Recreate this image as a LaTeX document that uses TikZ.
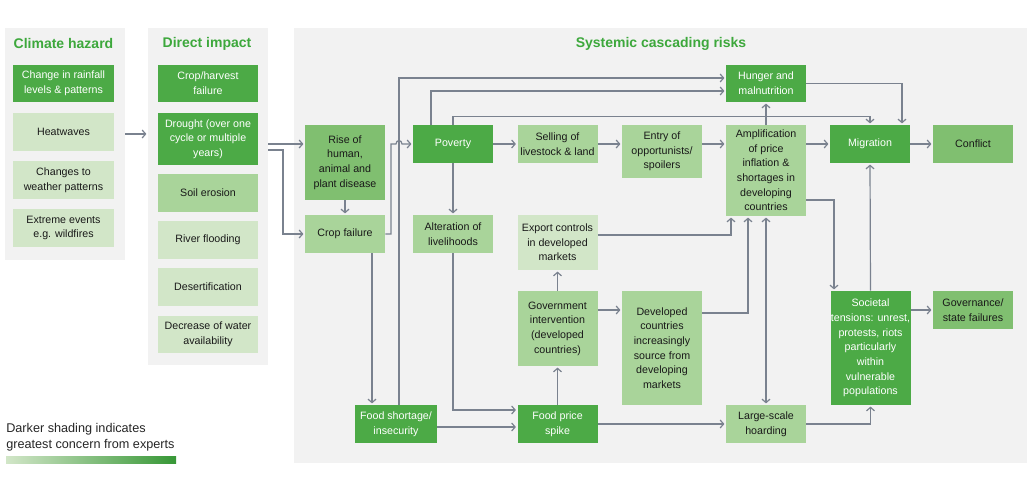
\documentclass[tikz,border=0pt]{standalone}
\usepackage{fontspec}
\setmainfont{Liberation Sans}
\usetikzlibrary{arrows.meta}
\definecolor{riskDark}{HTML}{4CAA46}
\definecolor{riskMid}{HTML}{80BF70}
\definecolor{riskLight}{HTML}{A9D49A}
\definecolor{riskPale}{HTML}{D2E6C8}
\definecolor{riskTitle}{HTML}{3DA83C}
\definecolor{panelGrey}{HTML}{F2F2F2}
\definecolor{linkGrey}{HTML}{7A828F}

\begin{document}
\begin{tikzpicture}[x=0.75pt,y=-0.75pt,>={Straight Barb[length=2.6pt,width=6pt]},
	panel/.style={fill=panelGrey,inner sep=0},
	box/.style={inner sep=0,minimum width=60pt,minimum height=28.5pt,align=center,font=\fontsize{8}{11}\selectfont,text=black!90},
	dk/.style={box,fill=riskDark,text=white},
	md/.style={box,fill=riskMid},
	lt/.style={box,fill=riskLight},
	xl/.style={box,fill=riskPale},
	head/.style={font=\fontsize{10.5}{12}\selectfont\bfseries,text=riskTitle},
	link/.style={draw=linkGrey,line width=0.9pt,->,shorten >=1pt}]
		%\draw[help lines,step=50] (0,0) grid (1028,491);
		\useasboundingbox (0,0) rectangle (1028,491);
		% panels
		\node[panel,minimum width=90pt,minimum height=174pt] (hpanel) at (65,144) {};
		\node[panel,minimum width=90pt,minimum height=252.75pt] (dpanel) at (208,196.5) {};
		\node[panel,minimum width=549.75pt,minimum height=326.25pt] (spanel) at (660.5,245.5) {};
		\node[head] (hhead) at (63.5,44) {Climate hazard};
		\node[head] (dhead) at (207,44) {Direct impact};
		\node[head] (shead) at (661,44) {Systemic cascading risks};
		% climate hazard
		\node[dk,minimum width=75.75pt,minimum height=27.75pt] (rain) at (63.5,83.5) {Change in rainfall\\levels \& patterns};
		\node[xl,minimum width=75.75pt] (heat) at (63.5,132) {Heatwaves};
		\node[xl,minimum width=75.75pt] (weather) at (63.5,180) {Changes to\\weather patterns};
		\node[xl,minimum width=75.75pt] (extreme) at (63.5,228) {Extreme events\\e.g. wildfires};
		% direct impact
		\node[dk,minimum width=75pt,minimum height=27.75pt] (harvest) at (208,83.5) {Crop/harvest\\failure};
		\node[dk,minimum width=75pt,minimum height=39pt] (drought) at (208,139) {Drought (over one\\cycle or multiple\\years)};
		\node[lt,minimum width=75pt] (soil) at (208,193) {Soil erosion};
		\node[xl,minimum width=75pt] (river) at (208,240) {River flooding};
		\node[xl,minimum width=75pt] (desert) at (208,287) {Desertification};
		\node[xl,minimum width=75pt,minimum height=27.75pt] (water) at (208,334.5) {Decrease of water\\availability};
		% systemic risks
		\node[md,minimum height=56.25pt] (rise) at (345,162.5) {Rise of\\human,\\animal and\\plant disease};
		\node[lt] (cropf) at (345,234) {Crop failure};
		\node[dk] (poverty) at (453,144) {Poverty};
		\node[lt] (selling) at (557.5,144) {Selling of\\livestock \& land};
		\node[lt,minimum height=39.75pt] (entry) at (662,151.5) {Entry of\\opportunists/\\spoilers};
		\node[dk,minimum height=27.75pt] (hunger) at (766,83.5) {Hunger and\\malnutrition};
		\node[lt,minimum height=68.25pt] (ampl) at (766,170.5) {Amplification\\of price\\inflation \&\\shortages in\\developing\\countries};
		\node[dk] (migration) at (870,144) {Migration};
		\node[md] (conflict) at (973,144) {Conflict};
		\node[lt] (alter) at (453,234) {Alteration of\\livelihoods};
		\node[xl,minimum height=41.25pt] (export) at (557.5,242.5) {Export controls\\in developed\\markets};
		\node[lt,minimum height=56.25pt] (govt) at (557.5,328.5) {Government\\intervention\\(developed\\countries)};
		\node[lt,minimum height=85.5pt] (devd) at (662,348) {Developed\\countries\\increasingly\\source from\\developing\\markets};
		\node[dk,minimum width=61.5pt] (foodsh) at (396,424) {Food shortage/\\insecurity};
		\node[dk] (spike) at (557.5,424) {Food price\\spike};
		\node[lt] (hoard) at (766,424) {Large-scale\\hoarding};
		\node[dk,minimum height=85.5pt] (soc) at (870.5,348) {Societal\\tensions: unrest,\\protests, riots\\particularly\\within\\vulnerable\\populations};
		\node[md] (gov) at (973,310) {Governance/\\state failures};
		% arrows
		\draw[link] (hpanel.east |- 0,134) -- (dpanel.west |- 0,134);
		\draw[link] (dpanel.east |- poverty) -- (rise.west |- poverty);
		\draw[link] (dpanel.east |- 0,150) -- (283,150) |- (cropf.west);
		\draw[link] (rise.south) -- (cropf.north);
		\draw[link] ([xshift=2.25pt]foodsh.north) |- (hunger.west |- 0,78);
		\draw[link] (cropf.east) -| (391,144) -- (396,144) .. controls (396,139.5) and (402,139.5) .. (402,144) -- (poverty.west);
		\draw[link] (431,0 |- poverty.north) |- (hunger.west |- 0,91);
		\draw[link] (poverty.north) -- ++(0,-8) -| (migration.north);
		\draw[link] (hunger.east) -| (902,0 |- migration.north);
		\draw[link] (ampl.north) -- (hunger.south);
		\draw[link] (poverty.east) -- (selling.west);
		\draw[link] (selling.east) -- (entry.west |- selling.east);
		\draw[link] (entry.east |- poverty) -- (ampl.west |- poverty);
		\draw[link] (ampl.east |- migration) -- (migration.west);
		\draw[link] (migration.east) -- (conflict.west);
		\draw[link] (poverty.south) -- (alter.north);
		\draw[link] (alter.south) |- (spike.west |- 0,410);
		\draw[link] (372,0 |- cropf.south) -- (372,0 |- foodsh.north);
		\draw[link] (foodsh.east |- 0,427) -- (spike.west |- 0,427);
		\draw[link] (spike.north) -- (govt.south);
		\draw[link] (govt.north) -- (export.south);
		\draw[link] (govt.east |- 0,310) -- (devd.west |- 0,310);
		\draw[link] (export.east |- 0,235) -| (731,0 |- ampl.south);
		\draw[link] (devd.east |- 0,313) -| (748,0 |- ampl.south);
		\draw[link,<->,shorten <=1pt] (ampl.south) -- (hoard.north);
		\draw[link] (spike.east) -- (hoard.west);
		\draw[link] (hoard.east) -| (soc.south);
		\draw[link] (ampl.east |- 0,200) -| (834,0 |- soc.north);
		\draw[link] (soc.north) -- (migration.south);
		\draw[link] (soc.east |- gov.west) -- (gov.west);
		% legend
		\node[anchor=north west,align=left,inner sep=0,font=\fontsize{9.5}{12}\selectfont,text=black!85] (legend) at (6,423) {Darker shading indicates\\greatest concern from experts};
		\shade[left color=riskPale,right color=riskTitle!90!black] (6,456) rectangle (176,463);
\end{tikzpicture}
\end{document}
